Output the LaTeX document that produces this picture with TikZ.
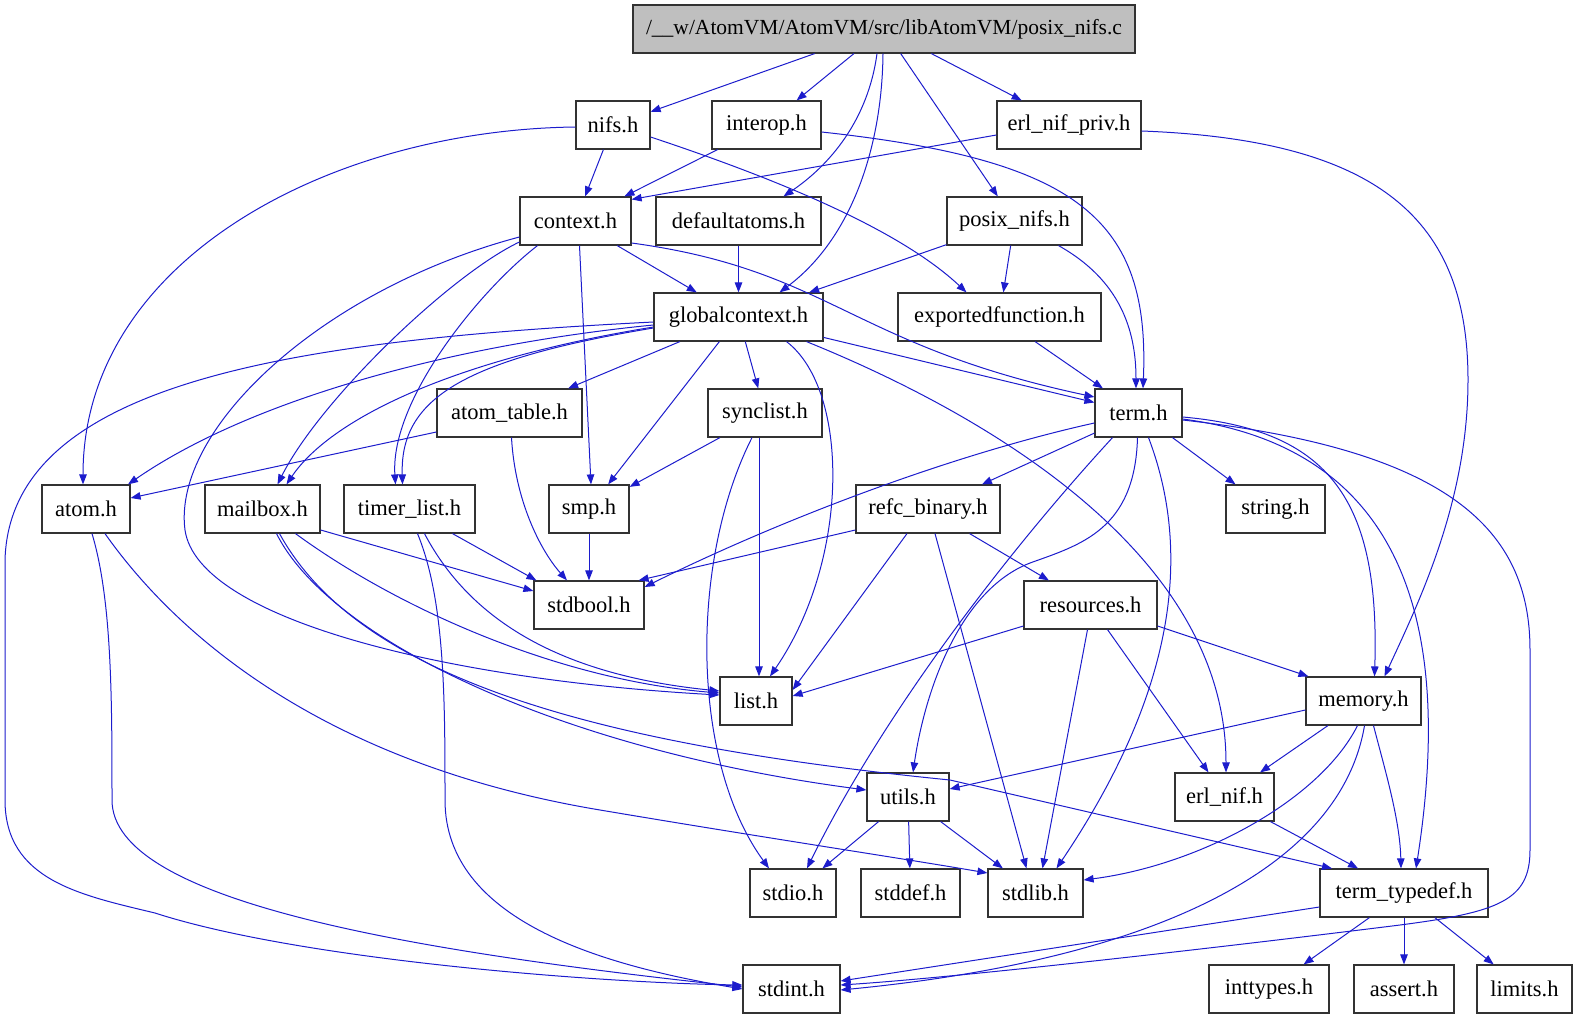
\documentclass[tikz,border=0pt]{standalone}
\usepackage{fontspec}
\setmainfont{Liberation Serif}
\usepackage{tikz}
\usetikzlibrary{
  arrows.meta,
  positioning
}
\definecolor{inclblue}{RGB}{28,28,204}
\definecolor{rootgray}{RGB}{191,191,191}
\definecolor{boxline}{RGB}{50,50,50}
\tikzset{
  hfile/.style={
    rectangle, draw=boxline, line width=1.2pt, fill=white,
    minimum height=48pt, inner sep=0pt,
    text centered, font=\fontsize{22.5}{26}\selectfont
  },
  hroot/.style={
    hfile, fill=rootgray, font=\fontsize{21.5}{26}\selectfont
  },
  incl/.style={-{Triangle[length=10pt,width=7.5pt]}, line width=1pt, color=inclblue}
}

\begin{document}
\begin{tikzpicture}[x=1pt, y=-1pt]
  \useasboundingbox (0,0) rectangle (1577,1019);

  % Row 0: the source file
  \node[hroot, minimum width=502pt] (root) at (884,29) {/\_\_w/AtomVM/AtomVM/src/libAtomVM/posix\_nifs.c};

  % Row 1
  \node[hfile, minimum width=74pt]  (nifs)       at (613,125)    {nifs.h};
  \node[hfile, minimum width=109pt] (interop)    at (766.5,125)  {interop.h};
  \node[hfile, minimum width=144pt] (erlnifpriv) at (1069,125)   {erl\_nif\_priv.h};

  % Row 2
  \node[hfile, minimum width=111pt] (context)      at (575.5,221)  {context.h};
  \node[hfile, minimum width=165pt] (defaultatoms) at (738.5,221)  {defaultatoms.h};
  \node[hfile, minimum width=135pt] (posixnifs)    at (1014.5,221) {posix\_nifs.h};

  % Row 3
  \node[hfile, minimum width=169pt] (globalctx)  at (738.5,317) {globalcontext.h};
  \node[hfile, minimum width=203pt] (exportedfn) at (999.5,317) {exportedfunction.h};

  % Row 4
  \node[hfile, minimum width=145pt] (atomtable) at (509.5,413)  {atom\_table.h};
  \node[hfile, minimum width=114pt] (synclist)  at (765,413)    {synclist.h};
  \node[hfile, minimum width=87pt]  (term)      at (1138.5,413) {term.h};

  % Row 5
  \node[hfile, minimum width=88pt]  (atom)       at (86,509)     {atom.h};
  \node[hfile, minimum width=115pt] (mailbox)    at (262.5,509)  {mailbox.h};
  \node[hfile, minimum width=131pt] (timerlist)  at (409.5,509)  {timer\_list.h};
  \node[hfile, minimum width=80pt]  (smp)        at (589,509)    {smp.h};
  \node[hfile, minimum width=144pt] (refcbinary) at (928,509)    {refc\_binary.h};
  \node[hfile, minimum width=99pt]  (stringh)    at (1275.5,509) {string.h};

  % Row 6
  \node[hfile, minimum width=110pt] (stdbool)   at (589,605)    {stdbool.h};
  \node[hfile, minimum width=133pt] (resources) at (1090.5,605) {resources.h};

  % Row 7
  \node[hfile, minimum width=72pt]  (list)   at (756,701)    {list.h};
  \node[hfile, minimum width=115pt] (memory) at (1363.5,701) {memory.h};

  % Row 8
  \node[hfile, minimum width=82pt] (utils)  at (908,797)    {utils.h};
  \node[hfile, minimum width=99pt] (erlnif) at (1224.5,797) {erl\_nif.h};

  % Row 9
  \node[hfile, minimum width=86pt]  (stdio)       at (793,893)    {stdio.h};
  \node[hfile, minimum width=99pt]  (stddef)      at (910.5,893)  {stddef.h};
  \node[hfile, minimum width=95pt]  (stdlib)      at (1035.5,893) {stdlib.h};
  \node[hfile, minimum width=168pt] (termtypedef) at (1404,893)   {term\_typedef.h};

  % Row 10
  \node[hfile, minimum width=97pt]  (stdint)   at (791.5,989) {stdint.h};
  \node[hfile, minimum width=120pt] (inttypes) at (1269,989)  {inttypes.h};
  \node[hfile, minimum width=100pt] (assert)   at (1404,989)  {assert.h};
  \node[hfile, minimum width=95pt]  (limits)   at (1524.5,989) {limits.h};

  % posix_nifs.c
  \draw[incl] (root) -- (nifs);
  \draw[incl] (root) -- (interop);
  \draw[incl] ([xshift=-7pt]root.south) .. controls (868,120) and (830,165) .. ([xshift=45pt]defaultatoms.north);
  \draw[incl] ([xshift=-1pt]root.south) .. controls (882,150) and (850,240) .. ([xshift=41pt]globalctx.north);
  \draw[incl] (root) -- (posixnifs);
  \draw[incl] (root) -- (erlnifpriv);

  % nifs.h, interop.h, erl_nif_priv.h
  \draw[incl] (nifs) -- (context);
  \draw[incl] ([yshift=-2pt]nifs.west) .. controls (330,130) and (83,260) .. ([xshift=-3pt]atom.north);
  \draw[incl] ([yshift=-12pt]nifs.east) .. controls (780,180) and (900,230) .. ([xshift=-33pt]exportedfn.north);
  \draw[incl] (interop) -- (context);
  \draw[incl] ([yshift=-7pt]interop.east) .. controls (1080,160) and (1150,220) .. ([xshift=4.5pt]term.north);
  \draw[incl] ([yshift=-10pt]erlnifpriv.west) -- ([yshift=-3pt]context.north east);
  \draw[incl] ([yshift=-6pt]erlnifpriv.east) .. controls (1380,140) and (1468,220) .. (1468,380)
        .. controls (1468,500) and (1420,600) .. ([xshift=21pt]memory.north);

  % context.h
  \draw[incl] (context) -- (globalctx);
  \draw[incl] ([yshift=-22pt]context.east) .. controls (830,270) and (850,345) .. ([yshift=16pt]term.west);
  \draw[incl] ([yshift=-16pt]context.west) .. controls (320,290) and (172,430) .. (185,530)
        .. controls (198,620) and (450,680) .. ([yshift=6pt]list.west);
  \draw[incl] ([yshift=-21pt]context.west) .. controls (450,275) and (320,400) .. ([xshift=15pt]mailbox.north);
  \draw[incl] ([xshift=-38pt]context.south) .. controls (480,290) and (390,400) .. ([xshift=-14pt]timerlist.north);
  \draw[incl] ([xshift=4pt]context.south) -- ([xshift=2pt]smp.north);

  % defaultatoms.h, posix_nifs.h, exportedfunction.h
  \draw[incl] (defaultatoms) -- (globalctx);
  \draw[incl] (posixnifs) -- (globalctx);
  \draw[incl] (posixnifs) -- (exportedfn);
  \draw[incl] ([xshift=44pt]posixnifs.south) .. controls (1120,280) and (1136,330) .. ([xshift=-2.5pt]term.north);
  \draw[incl] (exportedfn) -- (term);

  % globalcontext.h
  \draw[incl] ([yshift=-5pt]globalctx.west) .. controls (300,340) and (10,380) .. (5,560) -- (5,800)
        .. controls (5,880) and (80,895) .. (155,913)
        .. controls (300,960) and (600,983) .. ([yshift=4pt]stdint.west);
  \draw[incl] ([yshift=-8pt]globalctx.west) .. controls (450,345) and (250,400) .. ([xshift=42pt]atom.north);
  \draw[incl] ([yshift=-10pt]globalctx.west) .. controls (450,360) and (330,420) .. ([xshift=24pt]mailbox.north);
  \draw[incl] ([yshift=-11pt]globalctx.west) .. controls (460,360) and (400,400) .. ([xshift=-7pt]timerlist.north);
  \draw[incl] (globalctx) -- (atomtable);
  \draw[incl] (globalctx) -- (smp);
  \draw[incl] (globalctx) -- (synclist);
  \draw[incl] ([xshift=48pt]globalctx.south) .. controls (850,390) and (850,560) .. ([xshift=14pt]list.north);
  \draw[incl] ([xshift=68pt]globalctx.south) .. controls (1000,420) and (1226,560) .. ([xshift=1.5pt]erlnif.north);
  \draw[incl] (globalctx) -- (term);

  % atom_table.h, atom.h
  \draw[incl] ([yshift=-19pt]atomtable.west) -- ([yshift=11pt]atom.east);
  \draw[incl] ([xshift=2pt]atomtable.south) .. controls (515,500) and (540,550) .. ([xshift=-22pt]stdbool.north);
  \draw[incl] ([xshift=6pt]atom.south) .. controls (112,600) and (112,700) .. (112,800)
        .. controls (112,900) and (400,950) .. ([yshift=2pt]stdint.west);
  \draw[incl] ([xshift=19pt]atom.south) .. controls (180,640) and (330,765) .. (600,810)
        .. controls (760,837) and (900,858) .. ([yshift=20pt]stdlib.west);

  % mailbox.h
  \draw[incl] ([yshift=-21pt]mailbox.east) -- ([yshift=14pt]stdbool.west);
  \draw[incl] ([xshift=33pt]mailbox.south) .. controls (400,610) and (560,680) .. ([yshift=8pt]list.west);
  \draw[incl] ([xshift=14pt]mailbox.south) .. controls (330,640) and (560,750) .. ([yshift=7pt]utils.west);
  \draw[incl] ([xshift=17pt]mailbox.south) .. controls (360,680) and (600,745) .. (950,780)
        -- ([xshift=-72pt]termtypedef.north);

  % timer_list.h, smp.h, synclist.h
  \draw[incl] ([xshift=43pt]timerlist.south) -- ([xshift=3pt]stdbool.north west);
  \draw[incl] ([xshift=15pt]timerlist.south) .. controls (470,620) and (560,675) .. ([yshift=10pt]list.west);
  \draw[incl] ([xshift=8pt]timerlist.south) .. controls (445,600) and (445,700) .. (445,800)
        .. controls (445,920) and (600,965) .. ([yshift=0pt]stdint.west);
  \draw[incl] (smp) -- (stdbool);
  \draw[incl] (synclist) -- (smp);
  \draw[incl] ([xshift=-6pt]synclist.south) -- ([xshift=3pt]list.north);
  \draw[incl] ([xshift=-13pt]synclist.south) .. controls (690,560) and (690,760) .. ([xshift=-24pt]stdio.north);

  % term.h
  \draw[incl] (term) -- (refcbinary);
  \draw[incl] ([yshift=-10pt]term.west) .. controls (950,455) and (780,520) .. ([yshift=18pt]stdbool.east);
  \draw[incl] ([xshift=-26pt]term.south) .. controls (1000,560) and (880,720) .. ([xshift=14pt]stdio.north);
  \draw[incl] ([xshift=-1pt]term.south) .. controls (1135,530) and (1080,545) .. (1030,563)
        .. controls (960,590) and (925,690) .. ([xshift=5pt]utils.north);
  \draw[incl] ([xshift=10pt]term.south) .. controls (1195,560) and (1170,700) .. ([xshift=21pt]stdlib.north);
  \draw[incl] ([yshift=-4pt]term.east) .. controls (1330,430) and (1380,500) .. ([xshift=11pt]memory.north);
  \draw[incl] ([yshift=-6pt]term.east) .. controls (1420,450) and (1450,650) .. ([xshift=12pt]termtypedef.north);
  \draw[incl] ([yshift=-7pt]term.east) .. controls (1450,450) and (1530,530) .. (1530,650) -- (1530,850)
        .. controls (1530,900) and (1500,912) .. (1400,925)
        .. controls (1200,950) and (950,978) .. ([yshift=4pt]stdint.east);
  \draw[incl] ([xshift=34pt]term.south) -- ([xshift=-40pt]stringh.north);

  % refc_binary.h, resources.h
  \draw[incl] (refcbinary) -- (resources);
  \draw[incl] ([xshift=7pt]refcbinary.south) -- ([xshift=-9pt]stdlib.north);
  \draw[incl] ([xshift=-21pt]refcbinary.south) -- ([yshift=11pt]list.east);
  \draw[incl] ([yshift=-21pt]refcbinary.west) -- ([xshift=-6pt]stdbool.north east);
  \draw[incl] ([yshift=-21pt]resources.west) -- ([yshift=5pt]list.east);
  \draw[incl] ([xshift=-3pt]resources.south) -- ([xshift=7pt]stdlib.north);
  \draw[incl] ([xshift=17pt]resources.south) -- ([xshift=-16pt]erlnif.north);
  \draw[incl] ([yshift=-21pt]resources.east) -- ([xshift=3pt]memory.north west);

  % memory.h
  \draw[incl] ([yshift=-9pt]memory.west) -- ([yshift=8pt]utils.east);
  \draw[incl] (memory) -- (erlnif);
  \draw[incl] ([xshift=-6pt]memory.south) .. controls (1320,800) and (1200,865) .. ([yshift=13pt]stdlib.east);
  \draw[incl] ([xshift=10pt]memory.south) .. controls (1385,770) and (1400,820) .. ([xshift=-3pt]termtypedef.north);
  \draw[incl] ([xshift=1pt]memory.south) .. controls (1340,870) and (1150,960) .. ([yshift=-1pt]stdint.east);

  % utils.h, erl_nif.h, term_typedef.h
  \draw[incl] (utils) -- (stdio);
  \draw[incl] (utils) -- (stddef);
  \draw[incl] (utils) -- (stdlib);
  \draw[incl] (erlnif) -- (termtypedef);
  \draw[incl] ([yshift=-14pt]termtypedef.west) -- ([yshift=8pt]stdint.east);
  \draw[incl] (termtypedef) -- (inttypes);
  \draw[incl] (termtypedef) -- (assert);
  \draw[incl] (termtypedef) -- (limits);
\end{tikzpicture}
\end{document}
